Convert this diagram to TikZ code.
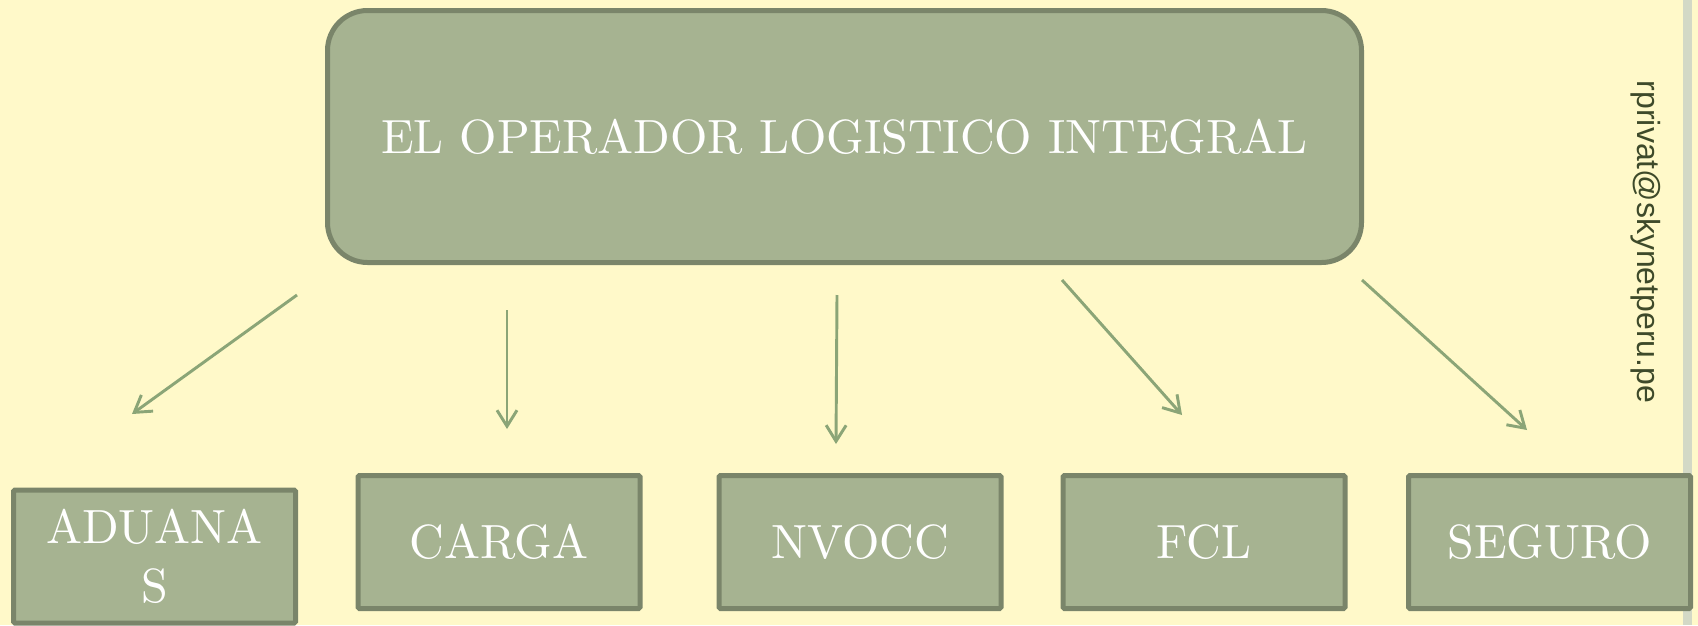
\documentclass[tikz,border=0pt]{standalone}
\usepackage{fontspec}
\newfontfamily\emailfont{Liberation Sans}
\newfontfamily\lmten{lmroman10-regular.otf}
\usetikzlibrary{arrows.meta}
\definecolor{bgc}{HTML}{FFF9C9}
\definecolor{boxfill}{HTML}{A6B391}
\definecolor{boxline}{HTML}{7A856A}
\definecolor{arrowc}{HTML}{8BA577}
\definecolor{stripc}{HTML}{D3D9C6}
\definecolor{emailc}{HTML}{3E4A2A}
\tikzset{
  mainbox/.style={draw=boxline, fill=boxfill, line width=3.75pt, rounded corners=30pt,
    minimum width=775.5pt, minimum height=189pt, inner sep=0pt, text=white,
    font=\lmten\fontsize{36pt}{44pt}\selectfont},
  subbox/.style={draw=boxline, fill=boxfill, line width=3.75pt, rounded corners=1pt,
    minimum width=211.5pt, minimum height=99.75pt, inner sep=0pt, text=white, align=center,
    font=\lmten\fontsize{36pt}{44.25pt}\selectfont},
  conn/.style={draw=arrowc, line width=2.2pt, -{Straight Barb[length=12pt,width=15pt,line width=2.2pt]}},
}
\begin{document}
\begin{tikzpicture}[x=0.75pt,y=-0.75pt]
\useasboundingbox (0,0) rectangle (1698,625);
\fill[bgc] (0,0) rectangle (1698,625);
\fill[stripc] (1683,0) rectangle (1692,625);
\node[mainbox] (main) at (844.5,136.5) {EL OPERADOR LOGISTICO INTEGRAL};
\node[subbox] (adu) at (154.5,556.5) {ADUANA\\S};
\node[subbox] (car) at (499,542) {CARGA};
\node[subbox] (nvo) at (860,542) {NVOCC};
\node[subbox] (fcl) at (1204,542) {FCL};
\node[subbox] (seg) at (1549.5,542) {SEGURO};
\node[rotate=-90, text=emailc, inner sep=0pt, font=\emailfont\fontsize{24pt}{28pt}\selectfont] (mail) at (1646,242) {rprivat@skynetperu.pe};
\coordinate (s1) at (297,295); \coordinate (e1) at (132,414);
\coordinate (s2) at (507,310); \coordinate (e2) at (507,429);
\coordinate (s3) at (837,295); \coordinate (e3) at (836,444);
\coordinate (s4) at (1062,280); \coordinate (e4) at (1182,415);
\coordinate (s5) at (1362,280); \coordinate (e5) at (1527,430);
\draw[conn] (s1) -- (e1);
\draw[conn] (s2) -- (e2);
\draw[conn] (s3) -- (e3);
\draw[conn] (s4) -- (e4);
\draw[conn] (s5) -- (e5);
\end{tikzpicture}
\end{document}
